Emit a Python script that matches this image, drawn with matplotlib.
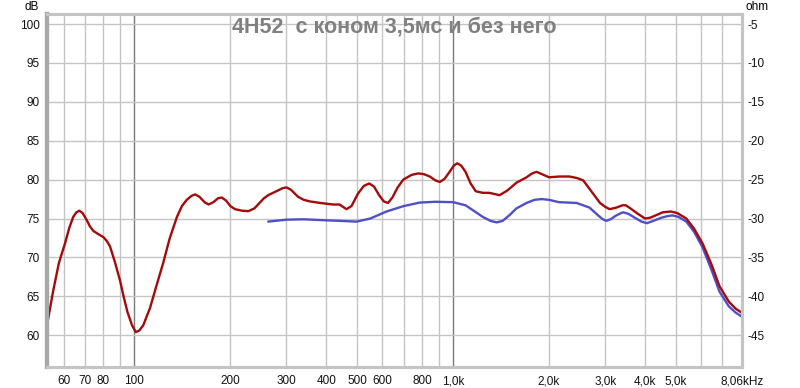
import matplotlib.pyplot as plt
import numpy as np
from matplotlib.ticker import FixedLocator, NullLocator

# with cone (red)
red_freq = [53.1, 55.7, 58.0, 60.6, 62.5, 64.3, 65.8, 67.2, 68.8, 70.9, 72.5, 74.4, 77.0,
            80.0, 82.0, 83.9, 86.9, 90.2, 92.5, 95.1, 98.3, 101, 103.7, 106.7, 112, 117,
            123, 129, 136, 141, 146, 151, 155, 160, 166, 171, 177, 183, 188, 194, 200,
            207, 218, 228, 238, 247, 255, 263, 282, 292, 300, 310, 326, 340, 355, 383,
            420, 440, 463, 480, 503, 525, 546, 565, 586, 606, 625, 645, 670, 698, 740,
            778, 810, 845, 880, 909, 940, 975, 1005, 1030, 1060, 1094, 1135, 1178, 1240,
            1300, 1399, 1480, 1580, 1700, 1770, 1828, 1900, 2000, 2150, 2319, 2450, 2560,
            2680, 2890, 3000, 3100, 3250, 3400, 3480, 3600, 3800, 4000, 4150, 4320, 4550,
            4820, 5050, 5390, 5700, 6060, 6450, 6850, 7330, 7700, 8040]
red_db = [61.1, 65.8, 69.3, 71.8, 73.8, 75.2, 75.8, 76.0, 75.7, 74.8, 74.0, 73.4, 73.0,
          72.6, 72.1, 71.4, 69.4, 67.0, 65.0, 63.0, 61.3, 60.4, 60.6, 61.3, 63.5, 66.2,
          69.2, 72.4, 75.2, 76.6, 77.4, 77.9, 78.1, 77.8, 77.1, 76.8, 77.1, 77.6, 77.7, 77.3,
          76.6, 76.2, 76.0, 75.95, 76.3, 77.0, 77.6, 78.0, 78.6, 78.9, 79.0, 78.7, 77.8, 77.4,
          77.2, 77.0, 76.8, 76.8, 76.2, 76.6, 78.2, 79.2, 79.5, 79.1, 78.0, 77.2, 77.0, 77.7,
          79.0, 80.0, 80.6, 80.8, 80.7, 80.4, 79.9, 79.7, 80.1, 81.0, 81.8, 82.1, 81.8, 81.0,
          79.5, 78.5, 78.3, 78.3, 78.0, 78.6, 79.6, 80.3, 80.8, 81.0, 80.7, 80.3, 80.4, 80.4,
          80.2, 79.9, 78.8, 77.0, 76.5, 76.2, 76.4, 76.7, 76.7, 76.3, 75.6, 75.0, 75.1, 75.4,
          75.8, 75.9, 75.7, 75.0, 73.7, 71.8, 69.2, 66.3, 64.3, 63.4, 62.9]

# without cone (blue)
blue_freq = [263, 300, 340, 383, 440, 498, 550, 618, 700, 786, 880, 1000, 1094, 1170,
             1240, 1310, 1370, 1430, 1500, 1580, 1700, 1800, 1897, 2000, 2150, 2440, 2680,
             2850, 2950, 3020, 3120, 3250, 3410, 3550, 3750, 3900, 4060, 4250, 4500, 4700,
             4880, 5100, 5390, 5700, 6060, 6450, 6850, 7330, 7700, 8040]
blue_db = [74.6, 74.85, 74.9, 74.8, 74.7, 74.6, 75.0, 75.9, 76.6, 77.05, 77.15, 77.1, 76.7,
           75.9, 75.2, 74.7, 74.5, 74.7, 75.4, 76.3, 77.0, 77.4, 77.5, 77.4, 77.1, 77.0, 76.4,
           75.4, 74.9, 74.7, 74.9, 75.4, 75.8, 75.6, 75.0, 74.6, 74.4, 74.7, 75.1, 75.3,
           75.4, 75.2, 74.6, 73.3, 71.3, 68.5, 65.6, 63.7, 62.9, 62.4]

xtick_vals = [60, 70, 80, 100, 200, 300, 400, 500, 600, 800, 1000, 2000, 3000, 4000, 5000, 8060]
xtick_labels = ["60", "70", "80", "100", "200", "300", "400", "500", "600", "800",
                "1,0k", "2,0k", "3,0k", "4,0k", "5,0k", "8,06kHz"]
db_ticks = [60, 65, 70, 75, 80, 85, 90, 95, 100]
ohm_ticks = [-45, -40, -35, -30, -25, -20, -15, -10, -5]

plt.rcParams["font.family"] = ["Liberation Sans", "DejaVu Sans"]
plt.rcParams["axes.unicode_minus"] = False

fig = plt.figure(figsize=(8, 3.88), dpi=100)
ax = fig.add_axes([0.0584, 0.054, 0.8691, 0.91])

XMIN, XMAX = 53.1, 8060
YMIN, YMAX = 55.9, 101.3

# grid lines
minor_grid = [60, 70, 80, 90, 200, 300, 400, 500, 600, 700, 800, 900,
              2000, 3000, 4000, 5000, 6000, 7000]
for x in minor_grid:
    ax.axvline(x, color="#c4c4c4", lw=1, zorder=0)
for x in [100, 1000]:
    ax.axvline(x, color="#7a7a7a", lw=1, zorder=0)
for y in db_ticks:
    ax.axhline(y, color="#c4c4c4", lw=1, zorder=0)

ax.plot(blue_freq, blue_db, color="#4f4fc8", lw=1.7, zorder=2,
        solid_joinstyle="round", solid_capstyle="round")
ax.plot(red_freq, red_db, color="#a50a0a", lw=1.7, zorder=3,
        solid_joinstyle="round", solid_capstyle="round")

ax.set_xscale("log")
ax.set_xlim(XMIN, XMAX)
ax.set_ylim(YMIN, YMAX)
ax.xaxis.set_major_locator(FixedLocator(xtick_vals))
ax.set_xticklabels(xtick_labels)
ax.xaxis.set_minor_locator(NullLocator())
ax.set_yticks(db_ticks)
ax.tick_params(axis="both", length=0, labelsize=8.5, colors="#111111")
ax.tick_params(axis="x", pad=6)
ax.tick_params(axis="y", pad=5)

ax2 = ax.twinx()
ax2.set_ylim(YMIN - 105, YMAX - 105)
ax2.set_yticks(ohm_ticks)
ax2.tick_params(axis="y", length=0, labelsize=8.5, pad=4, colors="#111111")

for a in (ax, ax2):
    for side in ["top", "bottom", "right"]:
        a.spines[side].set_color("#c4c4c4")
        a.spines[side].set_linewidth(2.2)
    a.spines["left"].set_color("#a8a8a8")
    a.spines["left"].set_linewidth(3)

ax.text(0.5, 0.962, "4H52  с коном 3,5мс и без него", transform=ax.transAxes,
        ha="center", va="center", fontsize=15.5, fontweight="bold", color="#808080",
        zorder=5)
fig.text(32 / 800, 1 - 7 / 388, "dB", ha="center", va="center", fontsize=8.5)
fig.text(757 / 800, 1 - 7 / 388, "ohm", ha="center", va="center", fontsize=8.5)

fig.savefig("out.png", dpi=100)
